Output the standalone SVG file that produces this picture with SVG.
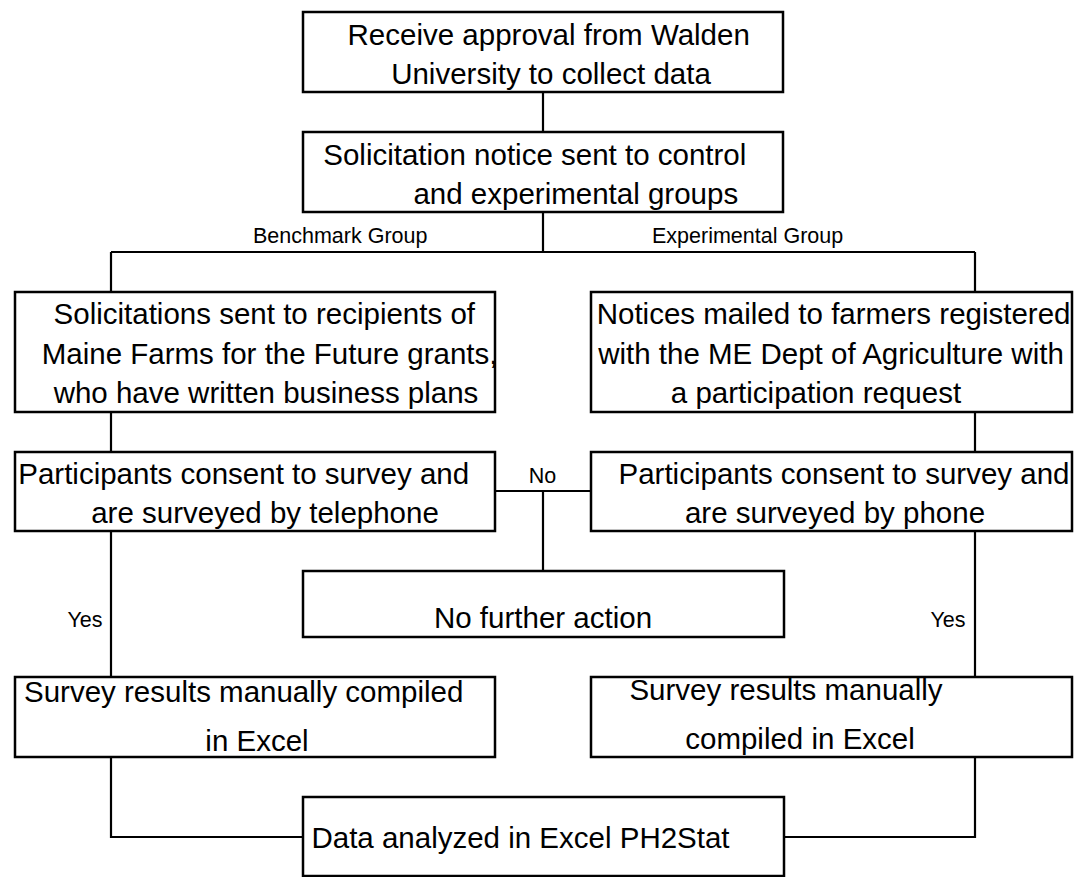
<svg xmlns="http://www.w3.org/2000/svg" width="1079" height="877" viewBox="0 0 1079 877">
<style>
.box{fill:#fff;stroke:#000;stroke-width:2.5}
.conn{fill:none;stroke:#000;stroke-width:2.2}
.t{font-family:"Liberation Sans",Arial,sans-serif;font-size:29.5px;text-anchor:middle;fill:#000}
.lbl{font-family:"Liberation Sans",Arial,sans-serif;font-size:21.5px;fill:#000}
</style>
<rect width="1079" height="877" fill="#fff"/>
<g id="connectors">
<path class="conn" d="M543 92V132M543 212V252M111 252H975M111 252V292M975 252V292"/>
<path class="conn" d="M111 412V452M975 412V452"/>
<path class="conn" d="M495 491H591M543 491V571"/>
<path class="conn" d="M111 531V677M975 531V677"/>
<path class="conn" d="M111 757V837H303M975 757V837H784"/>
<text class="lbl" x="253" y="243">Benchmark Group</text>
<text class="lbl" x="652" y="243">Experimental Group</text>
<text class="lbl" x="542.5" y="483" text-anchor="middle">No</text>
<text class="lbl" x="85" y="627" text-anchor="middle">Yes</text>
<text class="lbl" x="948" y="627" text-anchor="middle">Yes</text>
</g>
<g id="n1"><rect class="box" x="303" y="12" width="480" height="80"/>
<text class="t" x="548.7" y="45">Receive approval from Walden</text>
<text class="t" x="551" y="84">University to collect data</text></g>
<g id="n2"><rect class="box" x="303" y="132" width="480" height="80"/>
<text class="t" x="534.8" y="165">Solicitation notice sent to control</text>
<text class="t" x="575.8" y="204">and experimental groups</text></g>
<g id="n3"><rect class="box" x="15" y="292" width="480" height="120"/>
<text class="t" x="264.3" y="324">Solicitations sent to recipients of</text>
<text class="t" x="269.6" y="363.5">Maine Farms for the Future grants,</text>
<text class="t" x="266" y="403">who have written business plans</text></g>
<g id="n4"><rect class="box" x="591" y="292" width="481" height="120"/>
<text class="t" x="833.6" y="324">Notices mailed to farmers registered</text>
<text class="t" x="831" y="363.5">with the ME Dept of Agriculture with</text>
<text class="t" x="816" y="403">a participation request</text></g>
<g id="n5"><rect class="box" x="15" y="452" width="480" height="79"/>
<text class="t" x="243.7" y="483.5">Participants consent to survey and</text>
<text class="t" x="265" y="523">are surveyed by telephone</text></g>
<g id="n6"><rect class="box" x="591" y="452" width="481" height="79"/>
<text class="t" x="844" y="483.5">Participants consent to survey and</text>
<text class="t" x="835" y="523">are surveyed by phone</text></g>
<g id="n7"><rect class="box" x="303" y="571" width="481" height="66"/>
<text class="t" x="543" y="628">No further action</text></g>
<g id="n8"><rect class="box" x="15" y="677" width="480" height="80"/>
<text class="t" x="243.7" y="701.5">Survey results manually compiled</text>
<text class="t" x="257" y="750.5">in Excel</text></g>
<g id="n9"><rect class="box" x="591" y="677" width="481" height="80"/>
<text class="t" x="786" y="700">Survey results manually</text>
<text class="t" x="800" y="748.5">compiled in Excel</text></g>
<g id="n10"><rect class="box" x="303" y="797" width="481" height="79"/>
<text class="t" x="520.5" y="848">Data analyzed in Excel PH2Stat</text></g>
</svg>
